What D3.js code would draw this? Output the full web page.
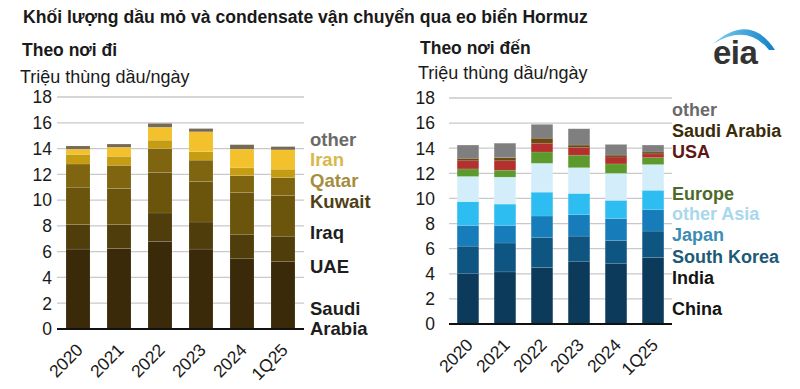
<!DOCTYPE html>
<html>
<head>
<meta charset="utf-8">
<script src="https://cdn.jsdelivr.net/npm/d3@7"></script>
<style>
  body { margin: 0; background: #fff; }
  svg { font-family: 'Liberation Sans', Arial, sans-serif; }
</style>
</head>
<body>
<svg width="800" height="389"></svg>
<script>
// categories
const years = ['2020', '2021', '2022', '2023', '2024', '1Q25'];
const yTicks = [0, 2, 4, 6, 8, 10, 12, 14, 16, 18];

// Theo nơi đi (origin), million b/d
const originKeys = ['Saudi Arabia', 'UAE', 'Iraq', 'Kuwait', 'Qatar', 'Iran', 'other'];
const saudiOrigin = [6.2, 6.25, 6.8, 6.2, 5.45, 5.25];
const uaeOrigin = [1.9, 1.85, 2.2, 2.1, 1.9, 1.95];
const iraqOrigin = [2.9, 2.8, 3.15, 3.15, 3.25, 3.15];
const kuwaitOrigin = [1.8, 1.8, 1.85, 1.65, 1.3, 1.4];
const qatarOrigin = [0.75, 0.7, 0.65, 0.65, 0.6, 0.65];
const iranOrigin = [0.4, 0.7, 1.0, 1.55, 1.45, 1.5];
const otherOrigin = [0.25, 0.25, 0.3, 0.25, 0.35, 0.25];

// Theo nơi đến (destination), million b/d
const destKeys = ['China', 'India', 'South Korea', 'Japan', 'other Asia', 'Europe', 'USA', 'Saudi Arabia', 'other'];
const chinaDest = [4.0, 4.15, 4.5, 5.0, 4.8, 5.3];
const indiaDest = [2.2, 2.3, 2.4, 2.0, 1.85, 2.1];
const koreaDest = [1.65, 1.4, 1.7, 1.7, 1.75, 1.7];
const japanDest = [1.9, 1.7, 1.9, 1.7, 1.45, 1.55];
const otherAsiaDest = [2.0, 2.15, 2.3, 2.05, 2.15, 2.05];
const europeDest = [0.6, 0.55, 0.9, 1.0, 0.75, 0.55];
const usaDest = [0.65, 0.75, 0.7, 0.6, 0.55, 0.3];
const saudiDest = [0.2, 0.25, 0.4, 0.2, 0.15, 0.15];
const otherDest = [1.05, 1.15, 1.1, 1.3, 0.85, 0.55];

const originValues = [saudiOrigin, uaeOrigin, iraqOrigin, kuwaitOrigin, qatarOrigin, iranOrigin, otherOrigin];
const destValues = [chinaDest, indiaDest, koreaDest, japanDest, otherAsiaDest, europeDest, usaDest, saudiDest, otherDest];

const originColors = ['#3a2a0a', '#4f3d0b', '#6b540c', '#7f650f', '#c59c12', '#f3c12c', '#766a55'];
const destColors = ['#0b3a5a', '#0f5582', '#167cba', '#2dbdf0', '#d3eefa', '#5c9a2e', '#b3302e', '#6b4a12', '#7f7f7f'];

const svg = d3.select('svg');

function toRows(keys, values) {
  return years.map((yr, i) => {
    const row = { year: yr };
    keys.forEach((k, j) => { row[k] = values[j][i]; });
    return row;
  });
}

function drawPanel(opts) {
  const x = d3.scaleBand()
    .domain(years)
    .range([opts.left, opts.right])
    .paddingInner(0.415)
    .paddingOuter(0.22);
  const y = d3.scaleLinear()
    .domain([0, 18])
    .range([opts.base, opts.top]);

  const g = svg.append('g');

  // gridlines
  g.selectAll('.grid')
    .data(yTicks.filter(d => d > 0))
    .enter().append('line')
    .attr('x1', opts.left)
    .attr('x2', opts.right)
    .attr('y1', d => y(d))
    .attr('y2', d => y(d))
    .attr('stroke', '#c9c9c9')
    .attr('stroke-width', 1.3);

  // y labels
  g.selectAll('.ylab')
    .data(yTicks)
    .enter().append('text')
    .attr('x', opts.labelX)
    .attr('y', d => y(d))
    .attr('dy', '0.36em')
    .attr('text-anchor', 'end')
    .style('font-size', '17.5px')
    .style('fill', '#1a1a1a')
    .text(d => d);

  const stack = d3.stack().keys(opts.keys);
  const series = stack(toRows(opts.keys, opts.values));

  g.selectAll('.layer')
    .data(series)
    .enter().append('g')
    .attr('fill', (d, i) => opts.colors[i])
    .selectAll('rect')
    .data(d => d)
    .enter().append('rect')
    .attr('x', d => x(d.data.year))
    .attr('y', d => y(d[1]))
    .attr('width', x.bandwidth())
    .attr('height', d => y(d[0]) - y(d[1]))
    .attr('stroke', 'rgba(255,255,255,0.18)')
    .attr('stroke-width', 0.6);

  // baseline
  g.append('line')
    .attr('x1', opts.left)
    .attr('x2', opts.right)
    .attr('y1', opts.base)
    .attr('y2', opts.base)
    .attr('stroke', '#111')
    .attr('stroke-width', 2);

  // x labels
  g.selectAll('.xlab')
    .data(years)
    .enter().append('text')
    .attr('transform', d => 'translate(' + (x(d) + x.bandwidth() / 2 + 6) + ',' + (opts.base + 22) + ') rotate(-45)')
    .attr('text-anchor', 'end')
    .style('font-size', '17.5px')
    .style('fill', '#1a1a1a')
    .text(d => d);

  // legend labels
  opts.legend.forEach(l => {
    const t = g.append('text')
      .attr('x', opts.legendX)
      .attr('y', l.y)
      .style('font-size', opts.legendSize)
      .style('font-weight', 'bold')
      .style('fill', l.color);
    l.lines.forEach((ln, i) => {
      t.append('tspan').attr('x', opts.legendX).attr('dy', i === 0 ? 0 : 20).text(ln);
    });
  });
}

// titles
svg.append('text').attr('x', 23).attr('y', 23)
  .style('font-size', '17.6px').style('font-weight', 'bold').style('fill', '#1a1a1a')
  .text('Khối lượng dầu mỏ và condensate vận chuyển qua eo biển Hormuz');
svg.append('text').attr('x', 22).attr('y', 56)
  .style('font-size', '17.5px').style('font-weight', 'bold').style('fill', '#1a1a1a')
  .text('Theo nơi đi');
svg.append('text').attr('x', 20).attr('y', 83)
  .style('font-size', '18px').style('fill', '#1a1a1a')
  .text('Triệu thùng dầu/ngày');
svg.append('text').attr('x', 420).attr('y', 54)
  .style('font-size', '17.5px').style('font-weight', 'bold').style('fill', '#1a1a1a')
  .text('Theo nơi đến');
svg.append('text').attr('x', 418).attr('y', 79)
  .style('font-size', '18px').style('fill', '#1a1a1a')
  .text('Triệu thùng dầu/ngày');

drawPanel({
  left: 57, right: 304, top: 97, base: 329, labelX: 52,
  keys: originKeys, values: originValues, colors: originColors,
  legendX: 310, legendSize: '18.5px',
  legend: [
    { lines: ['other'], y: 146, color: '#6a6a6a' },
    { lines: ['Iran'], y: 166, color: '#d8b84a' },
    { lines: ['Qatar'], y: 187, color: '#a48e3e' },
    { lines: ['Kuwait'], y: 208, color: '#4e4015' },
    { lines: ['Iraq'], y: 239, color: '#1e1e1e' },
    { lines: ['UAE'], y: 273, color: '#1e1e1e' },
    { lines: ['Saudi', 'Arabia'], y: 315, color: '#1e1e1e' }
  ]
});

drawPanel({
  left: 449, right: 672, top: 98, base: 324, labelX: 435,
  keys: destKeys, values: destValues, colors: destColors,
  legendX: 672, legendSize: '18px',
  legend: [
    { lines: ['other'], y: 116, color: '#6a6a6a' },
    { lines: ['Saudi Arabia'], y: 137, color: '#3b2c08' },
    { lines: ['USA'], y: 158, color: '#5e1616' },
    { lines: ['Europe'], y: 200, color: '#4d6a2a' },
    { lines: ['other Asia'], y: 220, color: '#a9d8ec' },
    { lines: ['Japan'], y: 241, color: '#3c8db3' },
    { lines: ['South Korea'], y: 263, color: '#1d5a77' },
    { lines: ['India'], y: 284, color: '#141414' },
    { lines: ['China'], y: 315, color: '#141414' }
  ]
});

// eia logo
const grad = svg.append('defs').append('linearGradient')
  .attr('id', 'sw').attr('x1', '0').attr('x2', '1').attr('y1', '0').attr('y2', '0');
grad.append('stop').attr('offset', '0').attr('stop-color', '#7fd0f2');
grad.append('stop').attr('offset', '1').attr('stop-color', '#0f7fc6');
svg.append('path')
  .attr('d', 'M713,44 Q750,12 775,50 L769,50 Q747,23 713,44 Z')
  .attr('fill', 'url(#sw)');
svg.append('text').attr('x', 713).attr('y', 64)
  .style('font-size', '33px').style('font-weight', 'bold').style('fill', '#333')
  .style('letter-spacing', '-0.5px')
  .text('eia');
</script>
</body>
</html>
